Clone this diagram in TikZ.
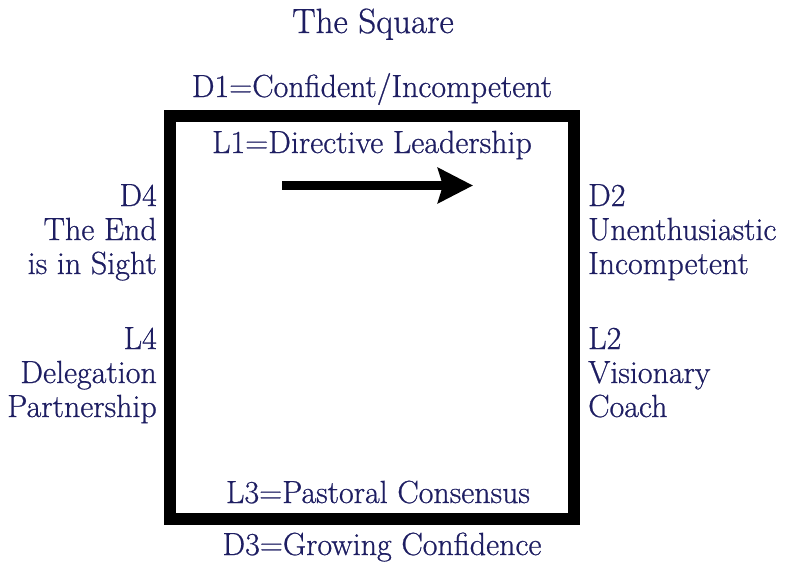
\documentclass[tikz,border=0pt]{standalone}
\usepackage{fontspec}
\setmainfont{Latin Modern Roman}[FakeBold=0.7]
\usetikzlibrary{positioning,arrows.meta}

\definecolor{navy}{RGB}{30,30,98}
\tikzset{
  lbl/.style={inner sep=0pt, text=navy, font=\fontsize{32}{34}\selectfont},
  ttl/.style={inner sep=0pt, text=navy, font=\fontsize{35}{38}\selectfont}
}

\begin{document}
\begin{tikzpicture}[x=1pt,y=-1pt]
\useasboundingbox (0,0) rectangle (785,563);
% the square
\draw[line width=12](170,115.5) rectangle (574,519);
% title and top / bottom labels
\node[ttl, anchor=base] (title) at (373,33) {The Square};
\node[lbl, anchor=base] (d1) at (372,97) {D1=Confident/Incompetent};
\node[lbl, anchor=base] (l1) at (372,153) {L1=Directive Leadership};
\node[lbl, anchor=base] (l3) at (378,503) {L3=Pastoral Consensus};
\node[lbl, anchor=base] (d3) at (382,555) {D3=Growing Confidence};
% left side
\node[lbl, anchor=base east] (d4) at (157,206) {D4};
\node[lbl, anchor=base east] (d4a) at (157,240) {The End};
\node[lbl, anchor=base east] (d4b) at (157,274) {is in Sight};
\node[lbl, anchor=base east] (l4) at (157,349) {L4};
\node[lbl, anchor=base east] (l4a) at (157,383) {Delegation};
\node[lbl, anchor=base east] (l4b) at (157,417) {Partnership};
% right side
\node[lbl, anchor=base west] (d2) at (588,206) {D2};
\node[lbl, anchor=base west] (d2a) at (588,240) {Unenthusiastic};
\node[lbl, anchor=base west] (d2b) at (588,274) {Incompetent};
\node[lbl, anchor=base west] (l2) at (588,349) {L2};
\node[lbl, anchor=base west] (l2a) at (588,383) {Visionary};
\node[lbl, anchor=base west] (l2b) at (588,417) {Coach};
% arrow
\coordinate (arrfrom) at (282,185.5);
\coordinate (arrto) at (473,185.5);
\draw[line width=9, -{Stealth[length=35pt,width=35pt,inset=5pt]}] (arrfrom) -- (arrto);
\end{tikzpicture}
\end{document}
